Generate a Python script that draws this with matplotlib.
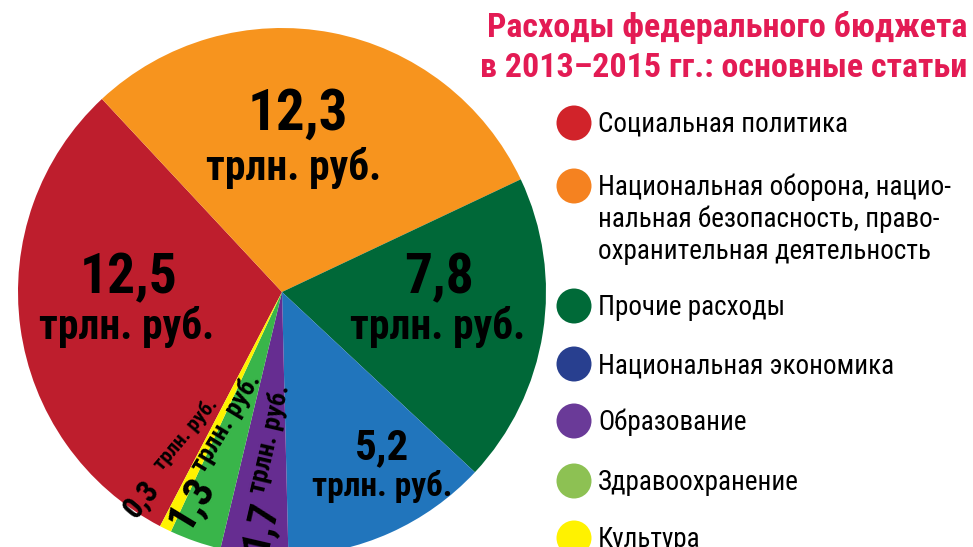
import matplotlib
matplotlib.use("Agg")
import matplotlib.pyplot as plt
import numpy as np
from matplotlib.patches import Circle

# Data ------------------------------------------------------------------------
values = [12.5, 12.3, 7.8, 5.2, 1.7, 1.3, 0.3]  # трлн. руб.
legend_lines = [
    ["Социальная политика"],
    ["Национальная оборона, нацио-",
     "нальная безопасность, право-",
     "охранительная деятельность"],
    ["Прочие расходы"],
    ["Национальная экономика"],
    ["Образование"],
    ["Здравоохранение"],
    ["Культура"],
]
pie_colors = ["#BE1E2D", "#F7941E", "#006838", "#2175BC",
              "#662D91", "#39B54A", "#FFF200"]
legend_colors = ["#D1232A", "#F58220", "#006A38", "#283F8F",
                 "#6A3A98", "#8DC153", "#FFF200"]
title_lines = ["Расходы федерального бюджета",
               "в 2013–2015 гг.: основные статьи"]
unit = "трлн. руб."

# Layout (pixels, y measured from the top of the image) -----------------------
W, H = 973, 547
CX, CY, R = 282, 292, 264
START = 133 + 360 * values[0] / sum(values)  # red/orange edge at 133 deg
FONT = ["Roboto Condensed", "DejaVu Sans"]
TITLE_COLOR = "#E31B54"


def fmt(v):
    return f"{v:.1f}".replace(".", ",")


fig = plt.figure(figsize=(W / 100, H / 100), dpi=100)
ax = fig.add_axes([0, 0, 1, 1])
wedges, _ = ax.pie(values, colors=pie_colors, startangle=START,
                   counterclock=False, radius=R, center=(CX, H - CY),
                   wedgeprops=dict(linewidth=0))
ax.set_xlim(0, W)
ax.set_ylim(0, H)
ax.set_aspect("equal")
ax.axis("off")

# big slices: number + unit, (x, baseline y, size) for each line
big = {
    0: ((129, 293, 40), (127, 339, 30)),
    1: ((298, 130, 41), (294, 180, 30)),
    2: ((439, 293, 40), (438, 339, 30)),
    3: ((382, 459, 31), (382, 496, 24)),
}
for i, (num, un) in big.items():
    ax.text(num[0], H - num[1], fmt(values[i]), ha="center", va="baseline",
            fontsize=num[2], fontweight="bold", family=FONT)
    ax.text(un[0], H - un[1], unit, ha="center", va="baseline",
            fontsize=un[2], fontweight="bold", family=FONT)

# small slices: text along the radius, read from the rim towards the centre
# (angle nudge, rotation nudge, r number, r unit, size number, size unit)
small = {
    4: (1, -8, 0.89, 0.56, 29, 19),
    5: (-4, -8, 0.87, 0.54, 31, 19),
    6: (-8, -6, 0.95, 0.65, 22, 15),
}
for i, (d_ang, d_rot, r_num, r_unit, s_num, s_unit) in small.items():
    w = wedges[i]
    ang = (w.theta1 + w.theta2) / 2 + d_ang
    a = np.deg2rad(ang)
    for r, txt, s in ((r_num, fmt(values[i]), s_num), (r_unit, unit, s_unit)):
        ax.text(CX + r * R * np.cos(a), H - CY + r * R * np.sin(a), txt,
                rotation=ang + 180 + d_rot, rotation_mode="anchor",
                ha="center", va="center", fontsize=s, fontweight="bold",
                family=FONT)

# title
for line, y in zip(title_lines, (37, 77)):
    ax.text(967, H - y, line, ha="right", va="baseline", fontsize=24.5,
            fontweight="bold", color=TITLE_COLOR, family=FONT)

# legend
legend_y = [123, 186, 306, 364, 421, 481, 538]
for color, lines, y in zip(legend_colors, legend_lines, legend_y):
    ax.add_patch(Circle((574, H - y), 17.5, color=color, lw=0))
    for k, line in enumerate(lines):
        ax.text(598, H - (y + 9 + 32 * k), line, ha="left", va="baseline",
                fontsize=19.5, family=FONT)

fig.savefig("out.png", dpi=100)
